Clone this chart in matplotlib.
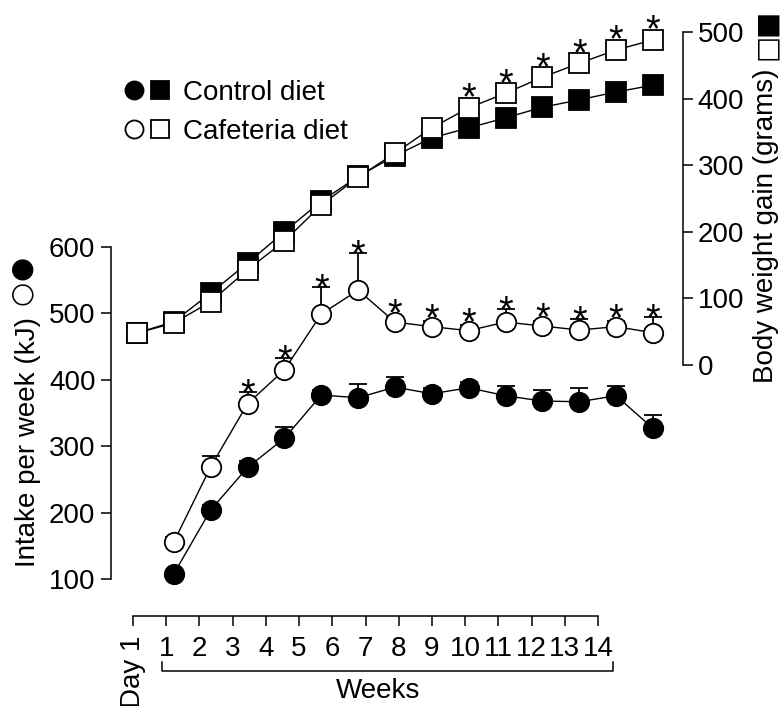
import matplotlib
matplotlib.use("Agg")
import matplotlib.pyplot as plt
import matplotlib.transforms as mtransforms
from matplotlib.legend_handler import HandlerTuple
from matplotlib.lines import Line2D

plt.rcParams['font.family'] = ['Liberation Sans', 'DejaVu Sans']
plt.rcParams['font.size'] = 20

# x positions: 0 = Day 1, then weeks 1-14
weight_days = list(range(0, 15))
intake_weeks = list(range(1, 15))
tick_labels = ['Day 1'] + [str(w) for w in range(1, 15)]

# body weight gain (grams), Day 1 + weeks 1-14
weight_control = [48, 65, 108, 153, 200, 246, 283, 314, 341, 356, 371, 387, 398, 410, 420]
weight_cafeteria = [48, 63, 95, 143, 186, 240, 282, 318, 356, 386, 408, 432, 453, 473, 488]
weight_stars = [9, 10, 11, 12, 13, 14]

# intake per week (kJ), weeks 1-14, upper error bar only
intake_control = [108, 204, 268, 312, 377, 373, 389, 379, 388, 376, 368, 367, 376, 327]
intake_control_err = [5, 8, 10, 17, 8, 20, 15, 8, 8, 15, 17, 21, 15, 20]
intake_cafeteria = [156, 269, 364, 415, 499, 535, 487, 480, 474, 487, 481, 475, 480, 471]
intake_cafeteria_err = [8, 17, 18, 18, 41, 56, 8, 8, 8, 20, 8, 17, 8, 23]
intake_stars = [3, 4, 5, 6, 7, 8, 9, 10, 11, 12, 13, 14]

W, H = 783, 706
fig = plt.figure(figsize=(W / 100, H / 100), dpi=100)


def px_rect(left, top, right, bottom):
    # figure rectangle from pixel edges (origin top-left)
    return [left / W, 1 - bottom / H, (right - left) / W, (bottom - top) / H]


ax = fig.add_axes(px_rect(111, 10, 683, 600))
ax.set_xlim(-0.706, 14.817)
ax.set_ylim(68.4, 956.9)
ax2 = ax.twinx()
ax2.set_ylim(-352.9, 533.0)

# left axis (intake)
for s in ['top', 'right', 'bottom']:
    ax.spines[s].set_visible(False)
ax.spines['left'].set_bounds(100, 600)
ax.spines['left'].set_linewidth(1.1)
ax.set_yticks([100, 200, 300, 400, 500, 600])
ax.tick_params(axis='y', direction='out', length=7.2, width=1.1, pad=4)
ax.set_xticks([])

# right axis (body weight)
for s in ['top', 'left', 'bottom']:
    ax2.spines[s].set_visible(False)
ax2.spines['right'].set_bounds(0, 500)
ax2.spines['right'].set_linewidth(1.1)
ax2.set_yticks([0, 100, 200, 300, 400, 500])
ax2.tick_params(axis='y', direction='out', length=7.2, width=1.1, pad=3.5)

# body weight squares
ax2.plot(weight_days, weight_control, '-s', color='black', mfc='black',
         ms=14, lw=1, mew=1.3, zorder=2)
ax2.plot(weight_days, weight_cafeteria, '-s', color='black', mfc='white',
         ms=14, lw=1, mew=1.3, zorder=3)
for wk in weight_stars:
    ax2.annotate('*', (wk, weight_cafeteria[wk] + 15), xytext=(0, -8.5),
                 textcoords='offset points', ha='center', va='baseline', fontsize=27)

# intake circles with upper error bars
ax.errorbar(intake_weeks, intake_control, yerr=[[0] * 14, intake_control_err],
            fmt='none', ecolor='black', elinewidth=1.3, capsize=6.5, capthick=1.3, zorder=2)
ax.errorbar(intake_weeks, intake_cafeteria, yerr=[[0] * 14, intake_cafeteria_err],
            fmt='none', ecolor='black', elinewidth=1.3, capsize=6.5, capthick=1.3, zorder=2)
ax.plot(intake_weeks, intake_control, '-o', color='black', mfc='black',
        ms=14, lw=1, mew=1.3, zorder=3)
ax.plot(intake_weeks, intake_cafeteria, '-o', color='black', mfc='white',
        ms=14, lw=1, mew=1.3, zorder=3)
for wk in intake_stars:
    i = wk - 1
    top = max(intake_cafeteria[i] + intake_cafeteria_err[i], intake_cafeteria[i] + 15)
    ax.annotate('*', (wk, top), xytext=(0, -9.5), textcoords='offset points',
                ha='center', va='baseline', fontsize=27)

# separate x axis at the bottom
ax3 = fig.add_axes(px_rect(133, 606, 598, 616))
ax3.patch.set_visible(False)
for s in ['top', 'left', 'right']:
    ax3.spines[s].set_visible(False)
ax3.spines['bottom'].set_linewidth(1.1)
ax3.set_xlim(0, 14)
ax3.set_yticks([])
ax3.set_xticks(weight_days)
ax3.set_xticklabels(tick_labels)
ax3.get_xticklabels()[0].set_rotation(90)
ax3.tick_params(axis='x', direction='out', length=7.2, width=1.1, pad=7)

# bracket under the week numbers
trans = mtransforms.blended_transform_factory(ax3.transData, fig.transFigure)
ax3.plot([0.87, 0.87, 14.45, 14.45], [1 - 662 / H, 1 - 671 / H, 1 - 671 / H, 1 - 662 / H],
         transform=trans, color='black', lw=1.1, clip_on=False)
fig.text(378 / W, 1 - 698 / H, 'Weeks', ha='center', va='baseline')

# axis titles with symbols
fig.text(28 / W, 1 - 567 / H, 'Intake per week (kJ)', rotation=90, ha='center', va='bottom')
fig.text(21 / W, 1 - 268 / H, '●', rotation=90, ha='center', va='center',
         family='DejaVu Sans', fontsize=20)
fig.text(21 / W, 1 - 293 / H, '○', rotation=90, ha='center', va='center',
         family='DejaVu Sans', fontsize=20)
fig.text(766 / W, 1 - 383 / H, 'Body weight gain (grams)', rotation=90, ha='center', va='bottom')
fig.text(766 / W, 1 - 23 / H, '■', rotation=90, ha='center', va='center',
         family='DejaVu Sans', fontsize=20)
fig.text(766 / W, 1 - 47 / H, '□', rotation=90, ha='center', va='center',
         family='DejaVu Sans', fontsize=20)

# legend
h_fc = Line2D([], [], marker='o', ls='none', color='black', mfc='black', ms=13, mew=1.3)
h_fs = Line2D([], [], marker='s', ls='none', color='black', mfc='black', ms=13, mew=1.3)
h_oc = Line2D([], [], marker='o', ls='none', color='black', mfc='white', ms=13, mew=1.3)
h_os = Line2D([], [], marker='s', ls='none', color='black', mfc='white', ms=13, mew=1.3)
fig.legend([(h_fc, h_fs), (h_oc, h_os)], ['Control diet', 'Cafeteria diet'],
           handler_map={tuple: HandlerTuple(ndivide=None, pad=0.1)},
           loc='upper left', bbox_to_anchor=(122 / W, 1 - 80 / H), frameon=False,
           borderpad=0, borderaxespad=0, handlelength=1.8, handletextpad=0.4,
           labelspacing=0.47)

fig.savefig('out.png', dpi=100)
